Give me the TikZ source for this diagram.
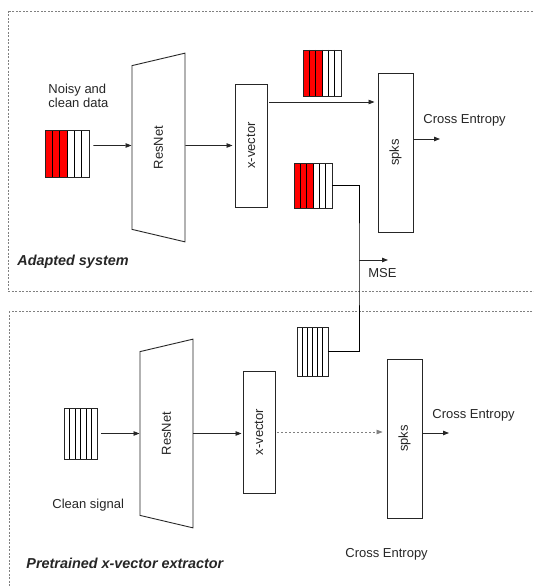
\documentclass[tikz,border=0pt]{standalone}
\usepackage{fontspec}
\setmainfont{Liberation Sans}
\usetikzlibrary{shapes.geometric,arrows.meta}

\begin{document}
\begin{tikzpicture}[x=1pt,y=-1pt,line width=0.8pt,
  every node/.style={font=\fontsize{13}{14}\selectfont,text=black!85},
  unit/.style={draw=black!85,line width=0.9pt,inner sep=0pt,rotate=90},
  net/.style={unit,trapezium,trapezium angle=70,trapezium stretches=true,
    minimum width=189pt,minimum height=53pt},
  feat/.style={draw=black!85,line width=0.9pt,inner sep=0pt},
  arr/.style={-{Triangle[length=6pt,width=4.5pt]},draw=black!85},
  frame/.style={draw=gray,line width=0.7pt,dash pattern=on 2pt off 1.5pt},
  lbl/.style={anchor=base west,inner sep=0pt},
  title/.style={lbl,font=\fontsize{14.4}{16}\selectfont\bfseries\itshape}]
\useasboundingbox (0,0) rectangle (533,586);
\clip (0,0) rectangle (533,586);
\draw[frame] (8,11) rectangle (545,291); % adapted
\draw[frame] (9,311) rectangle (545,600); % pretrained
% adapted system
\begin{scope}[shift={(45,130)}] % noisy input
  \foreach \i in {0,1,2} \fill[red] (\i*44/6,0) rectangle ++(44/6,47);
  \foreach \i in {1,...,5} \draw (\i*44/6,0) -- ++(0,47);
  \node[feat,minimum width=44pt,minimum height=47pt] (inA) at (22,23.5) {};
\end{scope}
\begin{scope}[shift={(303,50)}] % embedding, top
  \foreach \i in {0,1,2} \fill[red] (\i*38/6,0) rectangle ++(38/6,46);
  \foreach \i in {1,...,5} \draw (\i*38/6,0) -- ++(0,46);
  \node[feat,minimum width=38pt,minimum height=46pt] (redT) at (19,23) {};
\end{scope}
\begin{scope}[shift={(294,163)}] % embedding, mse
  \foreach \i in {0,1,2} \fill[red] (\i*38/6,0) rectangle ++(38/6,45);
  \foreach \i in {1,...,5} \draw (\i*38/6,0) -- ++(0,45);
  \node[feat,minimum width=38pt,minimum height=45pt] (redM) at (19,22.5) {};
\end{scope}
\node[anchor=north west,align=left,inner sep=0pt] (lblIn) at (48,83.5) {Noisy and\\clean data};
\node[net] (resA) at (158.5,147.5) {ResNet};
\node[unit,minimum width=123pt,minimum height=32pt] (xvA) at (251,145.5) {x-vector};
\node[unit,minimum width=159pt,minimum height=35pt] (spksA) at (395.5,152.5) {spks};
\coordinate (ceA) at (440,139);
\coordinate (jn) at (359,260);
\coordinate (mseEnd) at (388,260);
\draw[arr] ([xshift=4pt,yshift=8pt]inA.east) -- ([yshift=2pt]resA.north);
\draw[arr] ([yshift=2pt]resA.south) -- ([xshift=-2pt]xvA.north);
\draw[arr] ([xshift=2pt,yshift=43.5pt]xvA.south) -- ([xshift=-3pt,yshift=50.5pt]spksA.north);
\draw[arr] (spksA.south |- ceA) -- (ceA);
\node[lbl] (lblCeA) at (423,123) {Cross Entropy};
\node[lbl] (lblMse) at (368,277) {MSE};
\node[title] (ttlA) at (17,265) {Adapted system};
% pretrained extractor
\begin{scope}[shift={(64,408)}] % clean input
  \foreach \i in {1,...,5} \draw (\i*33/6,0) -- ++(0,51);
  \node[feat,minimum width=33pt,minimum height=51pt] (cleanB) at (16.5,25.5) {};
\end{scope}
\begin{scope}[shift={(297,327)}] % clean embedding
  \foreach \i in {1,...,5} \draw (\i*31/6,0) -- ++(0,49);
  \node[feat,minimum width=31pt,minimum height=49pt] (cleanT) at (15.5,24.5) {};
\end{scope}
\draw (redM.east) -| (jn) |- (cleanT.east);
\draw[arr] (jn) -- (mseEnd);
\node[net] (resB) at (166.5,433.5) {ResNet};
\node[unit,minimum width=122pt,minimum height=32pt] (xvB) at (259,432) {x-vector};
\node[unit,minimum width=159pt,minimum height=35pt] (spksB) at (404.5,438.5) {spks};
\coordinate (ceB) at (449,433);
\draw[arr] ([xshift=4pt]cleanB.east) -- (cleanB.east -| resB.north);
\draw[arr] (resB.south) -- ([xshift=-1pt]resB.south -| xvB.north);
\draw[arr,draw=gray,line width=0.6pt,dash pattern=on 2pt off 2pt] ([xshift=2pt]xvB.south) -- ([xshift=-4pt]xvB.south -| spksB.north);
\draw[arr] (spksB.south |- ceB) -- (ceB);
\node[lbl] (lblCeB) at (432,418) {Cross Entropy};
\node[lbl] (lblCeC) at (345,557) {Cross Entropy};
\node[lbl] (lblClean) at (52,508) {Clean signal};
\node[title] (ttlB) at (26,568) {Pretrained x-vector extractor};
\end{tikzpicture}
\end{document}
